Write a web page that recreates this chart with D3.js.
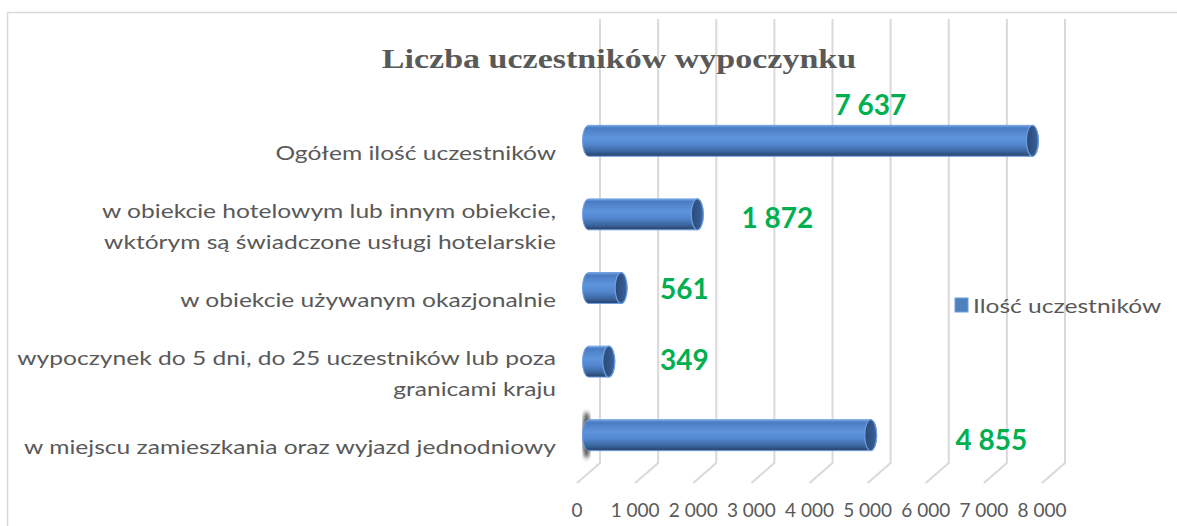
<!DOCTYPE html>
<html><head><meta charset="utf-8">
<script src="https://cdn.jsdelivr.net/npm/d3@7"></script>
<style>html,body{margin:0;padding:0;background:#fff;overflow:hidden}</style>
</head><body>
<svg id="c" width="1177" height="526"></svg>
<script>
const title = "Liczba uczestników wypoczynku";
const categories = [
  ["Ogółem ilość uczestników"],
  ["w obiekcie hotelowym lub innym obiekcie,", "wktórym są świadczone usługi hotelarskie"],
  ["w obiekcie używanym okazjonalnie"],
  ["wypoczynek do 5 dni, do 25 uczestników lub poza", "granicami kraju"],
  ["w miejscu zamieszkania oraz wyjazd jednodniowy"]
];
const values = [7637, 1872, 561, 349, 4855];
const valueLabels = ["7 637", "1 872", "561", "349", "4 855"];
const ticks = [0, 1000, 2000, 3000, 4000, 5000, 6000, 7000, 8000];
const tickLabels = ["0", "1 000", "2 000", "3 000", "4 000", "5 000", "6 000", "7 000", "8 000"];
const seriesName = "Ilość uczestników";

const svg = d3.select("#c");
const keys = categories.map((c, i) => i);
const depth = {dx: -23, dy: 20};
const x = d3.scaleLinear().domain([0, 8000]).range([600, 1065]);
const y = d3.scaleBand().domain(keys).range([94, 462]).paddingInner(0.58).paddingOuter(0.29);

// label placement (data units along axis, vertical shift) - Excel 3D label positions
const labelAnchor = [4850, 3250, 1650, 1650, 6930];
const labelDy = [-36, 4, 1, -2, 5];

const defs = svg.append("defs");
const g = defs.append("linearGradient").attr("id", "cyl").attr("x1", 0).attr("y1", 0).attr("x2", 0).attr("y2", 1);
[[0, "#79a7e6"], [0.08, "#4a7cc2"], [0.4, "#5e94dc"], [0.6, "#5489d1"], [0.85, "#3a659e"], [1, "#283f66"]]
  .forEach(([o, c]) => g.append("stop").attr("offset", o).attr("stop-color", c));
const gc = defs.append("linearGradient").attr("id", "cap").attr("x1", 0).attr("y1", 0).attr("x2", 1).attr("y2", 0);
[[0, "#2b4a78"], [0.6, "#33578a"], [1, "#3d66a0"]].forEach(([o, c]) => gc.append("stop").attr("offset", o).attr("stop-color", c));
defs.append("filter").attr("id", "blur").append("feGaussianBlur").attr("stdDeviation", 2);

// chart border
svg.append("rect").attr("x", 7.5).attr("y", 12.5).attr("width", 1200).attr("height", 600)
  .attr("fill", "none").attr("stroke", "#d9d9d9").attr("stroke-width", 1.5);

// gridlines (back wall + floor)
const yTop = 19, yBot = y.range()[1] + 1;
svg.append("g").selectAll("path").data(ticks).join("path")
  .attr("d", t => `M${x(t)},${yTop}V${yBot}l${depth.dx},${depth.dy}`)
  .attr("fill", "none").attr("stroke", "#d9d9d9").attr("stroke-width", 2);

// title
svg.append("text").attr("transform", "translate(619,68) scale(1.26,1)")
  .attr("text-anchor", "middle").attr("font-family", "Liberation Serif, serif").attr("font-weight", "bold")
  .attr("font-size", 27).attr("fill", "#595959").text(title);

// tick labels on front edge
svg.append("g").selectAll("text").data(ticks).join("text")
  .attr("x", t => x(t) + depth.dx).attr("y", 517).attr("text-anchor", "middle")
  .attr("font-family", "Lato, sans-serif").attr("font-size", 19).attr("fill", "#595959")
  .text((t, i) => tickLabels[i]);

// category labels (front plane)
const LSX = 1.23, LFS = 20;
const cat = svg.append("g").selectAll("g").data(keys).join("g")
  .attr("transform", k => `translate(556,${y(k) + y.bandwidth() / 2 + depth.dy}) scale(${LSX},1)`);
cat.each(function(k) {
  const lines = categories[k];
  const n = lines.length;
  d3.select(this).selectAll("text").data(lines).join("text")
    .attr("x", 0).attr("y", (l, j) => (j - (n - 1) / 2) * 31 + 2)
    .attr("dy", "0.35em").attr("text-anchor", "end")
    .attr("font-family", "Lato, sans-serif").attr("font-size", LFS).attr("fill", "#595959")
    .text(l => l);
});

// bars as cylinders (mid depth)
const bx = v => x(v) + depth.dx / 2;
const rx = 6;
const bars = svg.append("g").selectAll("g").data(keys).join("g");
bars.each(function(k) {
  const sel = d3.select(this);
  const h = y.bandwidth();
  const top = y(k) + depth.dy / 2;
  const cy = top + h / 2;
  const x0 = bx(0), x1 = bx(values[k]);
  if (k === keys.length - 1) {
    sel.append("ellipse").attr("cx", x0 - 2).attr("cy", cy).attr("rx", 3).attr("ry", h / 2 + 8)
      .attr("fill", "#111").attr("filter", "url(#blur)");
  }
  sel.append("path")
    .attr("d", `M${x0},${top} L${x1},${top} A${rx},${h / 2} 0 0 1 ${x1},${top + h} L${x0},${top + h} A${rx},${h / 2} 0 0 1 ${x0},${top} Z`)
    .attr("fill", "url(#cyl)").attr("stroke", "#6f9fe2").attr("stroke-width", 1);
  sel.append("ellipse").attr("cx", x1).attr("cy", cy).attr("rx", rx).attr("ry", h / 2)
    .attr("fill", "url(#cap)").attr("stroke", "#6f9fe2").attr("stroke-width", 1.2);
});

// value labels
svg.append("g").selectAll("text").data(keys).join("text")
  .attr("x", k => bx(labelAnchor[k]))
  .attr("y", k => y(k) + y.bandwidth() / 2 + depth.dy / 2 + labelDy[k])
  .attr("dy", "0.36em").attr("text-anchor", "middle")
  .attr("font-family", "Lato, sans-serif").attr("font-weight", "bold").attr("font-size", 28)
  .attr("fill", "#00b050").text(k => valueLabels[k]);

// legend
const lg = svg.append("g").attr("transform", "translate(955,298)");
lg.append("rect").attr("width", 13).attr("height", 14).attr("fill", "#4f81bd").attr("stroke", "#6f9fe2");
lg.append("text").attr("transform", `translate(18,8) scale(${LSX},1)`).attr("dy", "0.35em")
  .attr("font-family", "Lato, sans-serif").attr("font-size", LFS).attr("fill", "#595959").text(seriesName);
</script>
</body></html>
